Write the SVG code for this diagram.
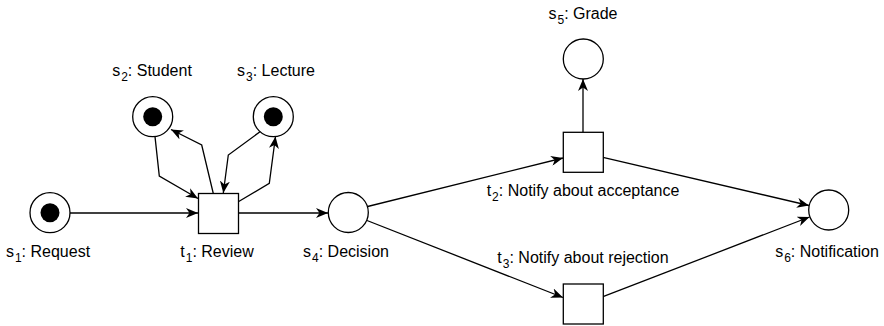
<svg xmlns="http://www.w3.org/2000/svg" width="884" height="326" viewBox="0 0 884 326">
  <style>
    .place { fill: #ffffff; stroke: #000000; stroke-width: 1.3; }
    .token { fill: #000000; stroke: none; }
    .trans { fill: #ffffff; stroke: #000000; stroke-width: 1.3; }
    .arc { fill: none; stroke: #000000; stroke-width: 1.3; marker-end: url(#arrow); }
    .label { font-family: "Liberation Sans", Arial, Helvetica, sans-serif; font-size: 16px; fill: #000000; text-anchor: middle; }
    .sub { font-size: 12px; }
  </style>
  <defs>
    <marker id="arrow" markerUnits="userSpaceOnUse" viewBox="0 0 12 10" refX="12" refY="5" markerWidth="12" markerHeight="10" orient="auto">
      <path d="M12,5 L0,0 L3.5,5 L0,10 Z" fill="#000000"/>
    </marker>
  </defs>

  <!-- arcs -->
  <g id="arcs">
    <path class="arc" d="M70,213 L198,213"/>
    <path class="arc" d="M238,213 L328,213"/>
    <path class="arc" d="M155,136.6 L159.3,176 L198,198.5"/>
    <path class="arc" d="M213.3,193.5 L201.7,145 L171,129.5"/>
    <path class="arc" d="M261.7,130.5 L228.3,155 L223.3,193"/>
    <path class="arc" d="M238.3,201.7 L269.3,183.3 L275.5,136.5"/>
    <path class="arc" d="M367.6,206.5 L563,158"/>
    <path class="arc" d="M367,220.5 L563,297.5"/>
    <path class="arc" d="M583,132 L583,79"/>
    <path class="arc" d="M603,157.3 L809,205.5"/>
    <path class="arc" d="M603,296.7 L809.5,217"/>
  </g>

  <g id="s1">
    <circle class="place" cx="50" cy="212.7" r="20"/>
    <circle class="token" cx="50" cy="212.7" r="9.5"/>
    <text class="label" x="48" y="257">s<tspan class="sub" dx="1" dy="5">1</tspan><tspan dy="-5">: Request</tspan></text>
  </g>

  <g id="s2">
    <circle class="place" cx="152.7" cy="116.7" r="20"/>
    <circle class="token" cx="152.7" cy="116.7" r="9.5"/>
    <text class="label" x="152" y="76">s<tspan class="sub" dx="1" dy="5">2</tspan><tspan dy="-5">: Student</tspan></text>
  </g>

  <g id="s3">
    <circle class="place" cx="273.3" cy="116.7" r="20"/>
    <circle class="token" cx="273.3" cy="116.7" r="9.5"/>
    <text class="label" x="276" y="76">s<tspan class="sub" dx="1" dy="5">3</tspan><tspan dy="-5">: Lecture</tspan></text>
  </g>

  <g id="t1">
    <rect class="trans" x="198.5" y="193.5" width="40" height="40"/>
    <text class="label" x="217" y="257">t<tspan class="sub" dx="1" dy="5">1</tspan><tspan dy="-5">: Review</tspan></text>
  </g>

  <g id="s4">
    <circle class="place" cx="348.3" cy="212.5" r="20"/>
    <text class="label" x="346" y="257">s<tspan class="sub" dx="1" dy="5">4</tspan><tspan dy="-5">: Decision</tspan></text>
  </g>

  <g id="t2">
    <rect class="trans" x="563.3" y="132.3" width="40" height="40"/>
    <text class="label" x="583" y="196">t<tspan class="sub" dx="1" dy="5">2</tspan><tspan dy="-5">: Notify about acceptance</tspan></text>
  </g>

  <g id="t3">
    <rect class="trans" x="563.3" y="284" width="40" height="40"/>
    <text class="label" x="583" y="263">t<tspan class="sub" dx="1" dy="5">3</tspan><tspan dy="-5">: Notify about rejection</tspan></text>
  </g>

  <g id="s5">
    <circle class="place" cx="583.3" cy="59" r="20"/>
    <text class="label" x="583" y="19">s<tspan class="sub" dx="1" dy="5">5</tspan><tspan dy="-5">: Grade</tspan></text>
  </g>

  <g id="s6">
    <circle class="place" cx="828.7" cy="210" r="20"/>
    <text class="label" x="827" y="257">s<tspan class="sub" dx="1" dy="5">6</tspan><tspan dy="-5">: Notification</tspan></text>
  </g>
</svg>
